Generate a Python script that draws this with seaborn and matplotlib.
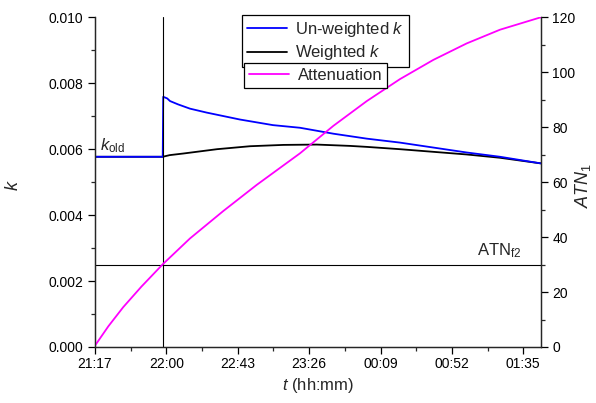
import numpy as np
import matplotlib
matplotlib.use("Agg")
import matplotlib.pyplot as plt
from matplotlib.ticker import MultipleLocator
from matplotlib.lines import Line2D
import seaborn as sns

# time in minutes after 21:17
t_unw = [0, 40.8, 41.1, 43.5, 45.2, 50.0, 57.2, 67.3, 87.3, 107.2, 123.5, 143.6,
         163.7, 183.7, 203.8, 223.9, 244.0, 268.5]
k_unw = [0.00577, 0.00577, 0.00759, 0.00754, 0.00746, 0.00736, 0.00723, 0.00711,
         0.00690, 0.00673, 0.00665, 0.00647, 0.00632, 0.00620, 0.00605, 0.00590,
         0.00577, 0.00557]

t_w = [0, 40.8, 45.0, 53.4, 73.5, 93.4, 113.5, 133.6, 153.6, 163.7, 183.7, 203.8,
       223.9, 244.0, 268.5]
k_w = [0.00577, 0.00577, 0.00582, 0.00587, 0.00600, 0.00609, 0.00613, 0.00614,
       0.00610, 0.00607, 0.00600, 0.00592, 0.00584, 0.00574, 0.00557]

t_atn = [0, 8.0, 17.0, 28.0, 40.8, 57.2, 77.3, 97.4, 123.5, 143.6, 163.7, 183.7,
         203.8, 223.9, 244.0, 268.5]
atn = [0.5, 7.5, 14.5, 22.0, 30.1, 39.5, 49.5, 59.0, 70.5, 80.5, 89.5, 97.5,
       104.5, 110.5, 115.5, 120.0]

tick_pos = [0, 43, 86, 129, 172, 215, 258]
tick_lab = ["21:17", "22:00", "22:43", "23:26", "00:09", "00:52", "01:35"]

t_switch = 40.8     # vertical marker
k_f2 = 0.0025       # horizontal ATN_f2 line (= ATN 30)

sns.set_style("ticks")
plt.rcParams["font.family"] = ["Liberation Sans", "DejaVu Sans"]
plt.rcParams["mathtext.fontset"] = "custom"
plt.rcParams["mathtext.rm"] = "Liberation Sans"
plt.rcParams["mathtext.it"] = "Liberation Sans:italic"

fig = plt.figure(figsize=(5.96, 4.03), dpi=100)
ax = fig.add_axes([0.1594, 0.139, 0.7478, 0.818])
ax2 = ax.twinx()

sns.lineplot(x=t_w, y=k_w, ax=ax, color="black", lw=1.3, sort=False,
             estimator=None, legend=False)
sns.lineplot(x=t_unw, y=k_unw, ax=ax, color="#0000ff", lw=1.3, sort=False,
             estimator=None, legend=False)
sns.lineplot(x=t_atn, y=atn, ax=ax2, color="#ff00ff", lw=1.3, sort=False,
             estimator=None, legend=False)

ax.axvline(t_switch, color="black", lw=0.8)
ax.axhline(k_f2, color="black", lw=0.8)

ax.set_xlim(0, 268.5)
ax.set_ylim(0, 0.010)
ax2.set_ylim(0, 120)

ax.set_xticks(tick_pos)
ax.set_xticklabels(tick_lab)
ax.xaxis.set_minor_locator(MultipleLocator(21.5))
ax.set_yticks([0, 0.002, 0.004, 0.006, 0.008, 0.010])
ax.set_yticklabels(["0.000", "0.002", "0.004", "0.006", "0.008", "0.010"])
ax.yaxis.set_minor_locator(MultipleLocator(0.001))
ax2.set_yticks([0, 20, 40, 60, 80, 100, 120])
ax2.yaxis.set_minor_locator(MultipleLocator(10))

for a in (ax, ax2):
    a.tick_params(which="major", direction="out", length=5, width=0.9,
                  labelsize=10, colors="black")
    a.tick_params(which="minor", direction="out", length=3, width=0.9)
    for s in a.spines.values():
        s.set_linewidth(0.9)
    a.spines["top"].set_visible(False)
ax.tick_params(axis="x", pad=2.5)

ax.set_xlabel(r"$t$ (hh:mm)", fontsize=12)
ax.set_ylabel(r"$k$", fontsize=13)
ax2.set_ylabel(r"$ATN_\mathrm{1}$", fontsize=13)
ax.xaxis.set_label_coords(0.5, -0.088)
ax.yaxis.set_label_coords(-0.164, 0.49)
ax2.yaxis.set_label_coords(1.072, 0.49)

ax.text(3, 0.00597, r"$k_{\mathrm{old}}$", fontsize=12, va="baseline")
ax2.text(257, 33.5, r"ATN$_{\mathrm{f2}}$", fontsize=12, va="baseline", ha="right")

h1 = [Line2D([], [], color="#0000ff", lw=1.3), Line2D([], [], color="black", lw=1.3)]
leg1 = ax.legend(h1, [r"Un-weighted $k$", r"Weighted $k$"], loc="upper left",
                 bbox_to_anchor=(0.406, 0.962), bbox_transform=fig.transFigure,
                 fontsize=12, frameon=True, fancybox=False, edgecolor="black",
                 framealpha=1, handlelength=2.4, handletextpad=0.5,
                 labelspacing=0.25, borderpad=0.3, borderaxespad=0)
leg1.get_frame().set_linewidth(0.9)
h2 = [Line2D([], [], color="#ff00ff", lw=1.3)]
leg2 = ax2.legend(h2, ["Attenuation"], loc="upper left",
                  bbox_to_anchor=(0.410, 0.843), bbox_transform=fig.transFigure,
                  fontsize=12, frameon=True, fancybox=False, edgecolor="black",
                  framealpha=1, handlelength=2.4, handletextpad=0.5,
                  borderpad=0.3, borderaxespad=0)
leg2.get_frame().set_linewidth(0.9)

fig.savefig("out.png", dpi=100)
